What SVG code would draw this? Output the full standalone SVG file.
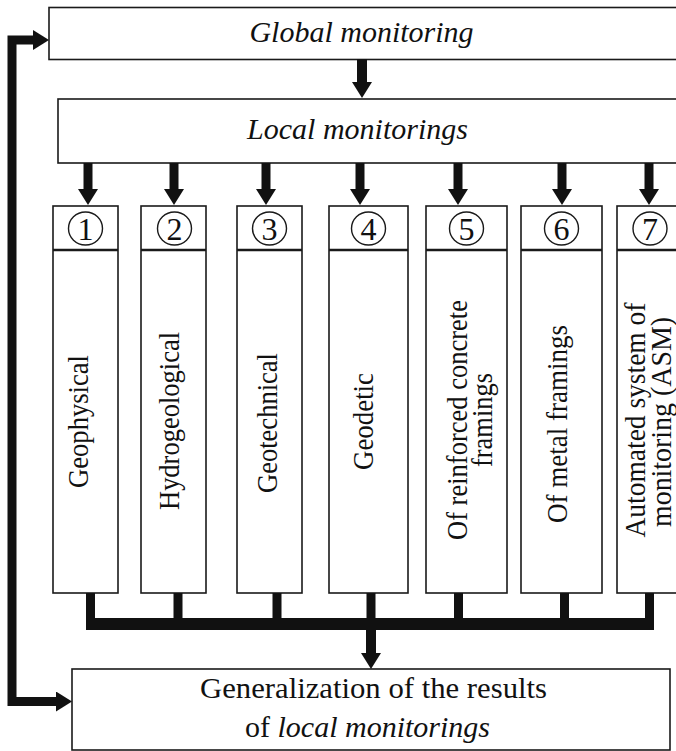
<svg xmlns="http://www.w3.org/2000/svg" width="676" height="751" viewBox="0 0 676 751">
<style>
.box{fill:#fff;stroke:#1a1a1a;stroke-width:1.6}
.sep{stroke:#1a1a1a;stroke-width:2.6}
.circ{fill:none;stroke:#1a1a1a;stroke-width:1.4}
.t{font-family:"Liberation Serif","Times New Roman",serif;fill:#111}
.it{font-style:italic}
.big{font-size:30px}
.num{font-size:32px;text-anchor:middle}
.lab{font-size:30px;text-anchor:middle}
.conn{fill:none;stroke:#111;stroke-width:9;stroke-linejoin:miter}
.bus{fill:none;stroke:#111;stroke-width:12}
</style>
<defs>
<marker id="ah" viewBox="0 0 16 20" markerWidth="16" markerHeight="20" refX="0" refY="10" orient="auto" markerUnits="userSpaceOnUse">
<path d="M0,0 L16,10 L0,20 z" fill="#111"/>
</marker>
</defs>
<rect width="676" height="751" fill="#fff"/>

<g id="global">
<rect class="box" x="49" y="7.5" width="650" height="52"/>
<text class="t it big" x="361.5" y="42" text-anchor="middle">Global monitoring</text>
</g>

<g id="local">
<rect class="box" x="58" y="99" width="650" height="64"/>
<text class="t it big" x="357.5" y="139" text-anchor="middle">Local monitorings</text>
</g>

<g id="m1">
<rect class="box" x="53" y="206" width="65" height="387"/>
<line class="sep" x1="53" y1="250" x2="118" y2="250"/>
<ellipse class="circ" cx="85.5" cy="228.5" rx="17" ry="16.5"/>
<text class="t num" x="85.5" y="240">1</text>
<text class="t lab" transform="translate(88,421.5) rotate(-90)" textLength="133" lengthAdjust="spacingAndGlyphs">Geophysical</text>
</g>

<g id="m2">
<rect class="box" x="141" y="206" width="65" height="387"/>
<line class="sep" x1="141" y1="250" x2="206" y2="250"/>
<ellipse class="circ" cx="174.5" cy="228.5" rx="17" ry="16.5"/>
<text class="t num" x="174.5" y="240">2</text>
<text class="t lab" transform="translate(179,421) rotate(-90)" textLength="178" lengthAdjust="spacingAndGlyphs">Hydrogeological</text>
</g>

<g id="m3">
<rect class="box" x="237" y="206" width="65" height="387"/>
<line class="sep" x1="237" y1="250" x2="302" y2="250"/>
<ellipse class="circ" cx="269.5" cy="228.5" rx="17" ry="16.5"/>
<text class="t num" x="269.5" y="240">3</text>
<text class="t lab" transform="translate(277,423) rotate(-90)" textLength="140" lengthAdjust="spacingAndGlyphs">Geotechnical</text>
</g>

<g id="m4">
<rect class="box" x="329" y="206" width="79" height="387"/>
<line class="sep" x1="329" y1="250" x2="408" y2="250"/>
<ellipse class="circ" cx="368.5" cy="228.5" rx="17" ry="16.5"/>
<text class="t num" x="368.5" y="240">4</text>
<text class="t lab" transform="translate(373,421.5) rotate(-90)" textLength="97" lengthAdjust="spacingAndGlyphs">Geodetic</text>
</g>

<g id="m5">
<rect class="box" x="426" y="206" width="81" height="387"/>
<line class="sep" x1="426" y1="250" x2="507" y2="250"/>
<ellipse class="circ" cx="466.5" cy="228.5" rx="17" ry="16.5"/>
<text class="t num" x="466.5" y="240">5</text>
<text class="t lab" transform="translate(467,420) rotate(-90)" textLength="240" lengthAdjust="spacingAndGlyphs">Of reinforced concrete</text>
<text class="t lab" transform="translate(492,420) rotate(-90)" textLength="94" lengthAdjust="spacingAndGlyphs">framings</text>
</g>

<g id="m6">
<rect class="box" x="521" y="206" width="81" height="387"/>
<line class="sep" x1="521" y1="250" x2="602" y2="250"/>
<ellipse class="circ" cx="561.5" cy="228.5" rx="17" ry="16.5"/>
<text class="t num" x="561.5" y="240">6</text>
<text class="t lab" transform="translate(567,424) rotate(-90)" textLength="198" lengthAdjust="spacingAndGlyphs">Of metal framings</text>
</g>

<g id="m7">
<rect class="box" x="617" y="206" width="70" height="387"/>
<line class="sep" x1="617" y1="250" x2="687" y2="250"/>
<ellipse class="circ" cx="650" cy="228.5" rx="17" ry="16.5"/>
<text class="t num" x="650" y="240">7</text>
<text class="t lab" transform="translate(645,420) rotate(-90)" textLength="235" lengthAdjust="spacingAndGlyphs">Automated system of</text>
<text class="t lab" transform="translate(671,422) rotate(-90)" textLength="210" lengthAdjust="spacingAndGlyphs">monitoring (ASM)</text>
</g>

<g id="generalization">
<rect class="box" x="72" y="669" width="598" height="81"/>
<text class="t big" x="373.5" y="698" text-anchor="middle" textLength="347" lengthAdjust="spacingAndGlyphs">Generalization of the results</text>
<text class="t big" x="367.5" y="737" text-anchor="middle">of <tspan class="it">local monitorings</tspan></text>
</g>

<g id="connectors">
<line class="conn" style="stroke-width:10" x1="362" y1="59" x2="362" y2="82" marker-end="url(#ah)"/>
<line class="conn" x1="88" y1="163" x2="88" y2="189" marker-end="url(#ah)"/>
<line class="conn" x1="174" y1="163" x2="174" y2="189" marker-end="url(#ah)"/>
<line class="conn" x1="266" y1="163" x2="266" y2="189" marker-end="url(#ah)"/>
<line class="conn" x1="360" y1="163" x2="360" y2="189" marker-end="url(#ah)"/>
<line class="conn" x1="458" y1="163" x2="458" y2="189" marker-end="url(#ah)"/>
<line class="conn" x1="562" y1="163" x2="562" y2="189" marker-end="url(#ah)"/>
<line class="conn" x1="649" y1="163" x2="649" y2="189" marker-end="url(#ah)"/>
<path class="conn" d="M90.5,593 V624 M178,593 V624 M277,593 V624 M371,593 V624 M458.5,593 V624 M564.5,593 V624 M649.5,593 V624"/>
<line class="bus" x1="86" y1="624" x2="654" y2="624"/>
<line class="conn" style="stroke-width:10" x1="371" y1="630" x2="371" y2="653" marker-end="url(#ah)"/>
<path class="conn" d="M56,701.5 H12 V40 H33" marker-end="url(#ah)"/>
<path class="conn" d="M30,701.5 H56" marker-end="url(#ah)"/>
</g>
</svg>
